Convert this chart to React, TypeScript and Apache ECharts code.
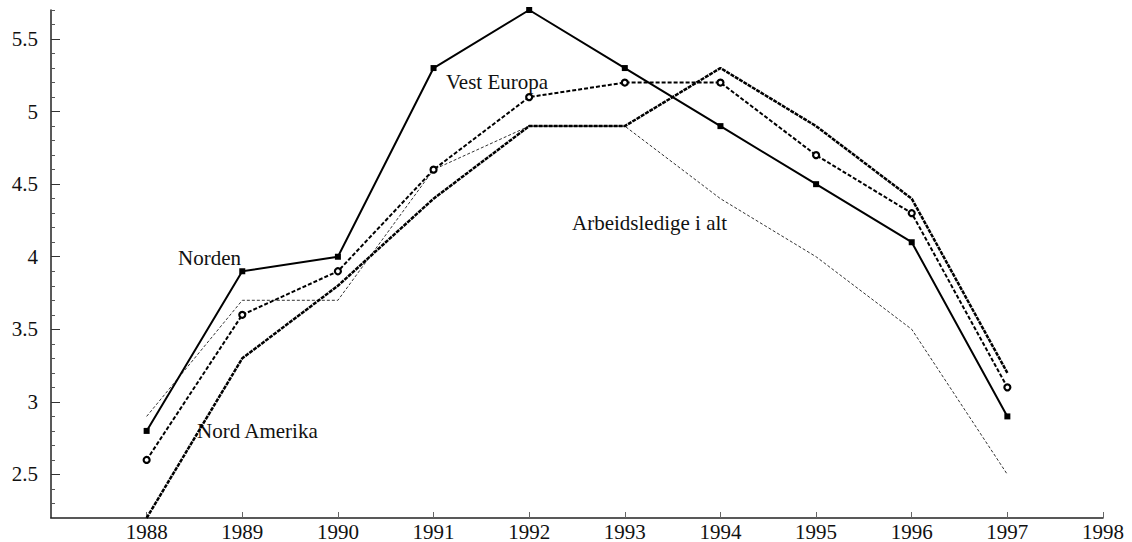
import React, { useEffect, useRef } from "react";
import * as echarts from "echarts";

const years = [1988, 1989, 1990, 1991, 1992, 1993, 1994, 1995, 1996, 1997];
const norden = [2.8, 3.9, 4.0, 5.3, 5.7, 5.3, 4.9, 4.5, 4.1, 2.9];
const vestEuropa = [2.6, 3.6, 3.9, 4.6, 5.1, 5.2, 5.2, 4.7, 4.3, 3.1];
const nordAmerika = [2.2, 3.3, 3.8, 4.4, 4.9, 4.9, 5.3, 4.9, 4.4, 3.2];
const arbeidsledige = [2.9, 3.7, 3.7, 4.6, 4.9, 4.9, 4.4, 4.0, 3.5, 2.5];
const yMajorTicks = [2.5, 3, 3.5, 4, 4.5, 5, 5.5];

const FONT = "Liberation Serif";

const pairs = (vals: number[]) => years.map((y, i) => [y, vals[i]]);

export default function App() {
  const ref = useRef<HTMLDivElement>(null);
  useEffect(() => {
    if (!ref.current) return;
    const chart = echarts.init(ref.current, undefined, { renderer: "svg" });
    const axisColor = "#222";
    chart.setOption({
      animation: false,
      backgroundColor: "#fff",
      textStyle: { fontFamily: FONT },
      grid: { left: 51, right: 29, top: 10, bottom: 24, containLabel: false },
      xAxis: {
        type: "value",
        min: 1987,
        max: 1998,
        interval: 1,
        axisLine: { show: true, lineStyle: { color: axisColor, width: 1.5 } },
        axisTick: { show: true, inside: true, length: 6, lineStyle: { color: "#666", width: 1 } },
        axisLabel: {
          showMinLabel: false,
          margin: 3,
          fontFamily: FONT,
          fontSize: 21,
          color: "#111",
          formatter: (v: number) => String(v),
        },
        splitLine: { show: false },
      },
      yAxis: [
        {
          type: "value",
          position: "left",
          min: 2.2,
          max: 5.7,
          interval: 0.1,
          axisLine: { show: true, lineStyle: { color: axisColor, width: 1.5 } },
          axisTick: { show: true, inside: true, length: 4, lineStyle: { color: "#555", width: 1 } },
          axisLabel: {
            customValues: yMajorTicks,
            margin: 13,
            fontFamily: FONT,
            fontSize: 21,
            color: "#111",
            formatter: (v: number) => String(Math.round(v * 10) / 10),
          },
          splitLine: { show: false },
        },
        {
          type: "value",
          position: "left",
          min: 2.2,
          max: 5.7,
          axisLine: { show: false },
          axisTick: { show: true, inside: true, length: 9, customValues: yMajorTicks, lineStyle: { color: "#333", width: 1 } },
          axisLabel: { show: false },
          splitLine: { show: false },
        },
      ],
      series: [
        {
          name: "Arbeidsledige i alt",
          type: "line",
          data: pairs(arbeidsledige),
          showSymbol: false,
          symbol: "none",
          clip: false,
          lineStyle: { color: "#333", width: 1, type: [3, 2] },
        },
        {
          name: "Nord Amerika",
          type: "line",
          data: pairs(nordAmerika),
          symbol: "none",
          clip: false,
          lineStyle: { color: "#000", width: 2.5, type: [4, 1] },
        },
        {
          name: "Vest Europa",
          type: "line",
          data: pairs(vestEuropa),
          symbol: "circle",
          symbolSize: 6,
          clip: false,
          itemStyle: { color: "#fff", borderColor: "#000", borderWidth: 2.2 },
          lineStyle: { color: "#000", width: 2, type: [4, 2] },
        },
        {
          name: "Norden",
          type: "line",
          data: pairs(norden),
          symbol: "rect",
          symbolSize: 6,
          clip: false,
          itemStyle: { color: "#000" },
          lineStyle: { color: "#000", width: 2, type: "solid" },
        },
      ],
      graphic: [
        { type: "text", x: 178, y: 258, style: { text: "Norden", fontFamily: FONT, fontSize: 21, fill: "#111", verticalAlign: "middle" } },
        { type: "text", x: 446, y: 82, style: { text: "Vest Europa", fontFamily: FONT, fontSize: 21, fill: "#111", verticalAlign: "middle" } },
        { type: "text", x: 572, y: 223, style: { text: "Arbeidsledige i alt", fontFamily: FONT, fontSize: 21, fill: "#111", verticalAlign: "middle" } },
        { type: "text", x: 197, y: 431, style: { text: "Nord Amerika", fontFamily: FONT, fontSize: 21, fill: "#111", verticalAlign: "middle" } },
      ],
    });
    return () => chart.dispose();
  }, []);
  return <div ref={ref} style={{ width: 1132, height: 542, position: "absolute", left: 0, top: 0 }} />;
}
